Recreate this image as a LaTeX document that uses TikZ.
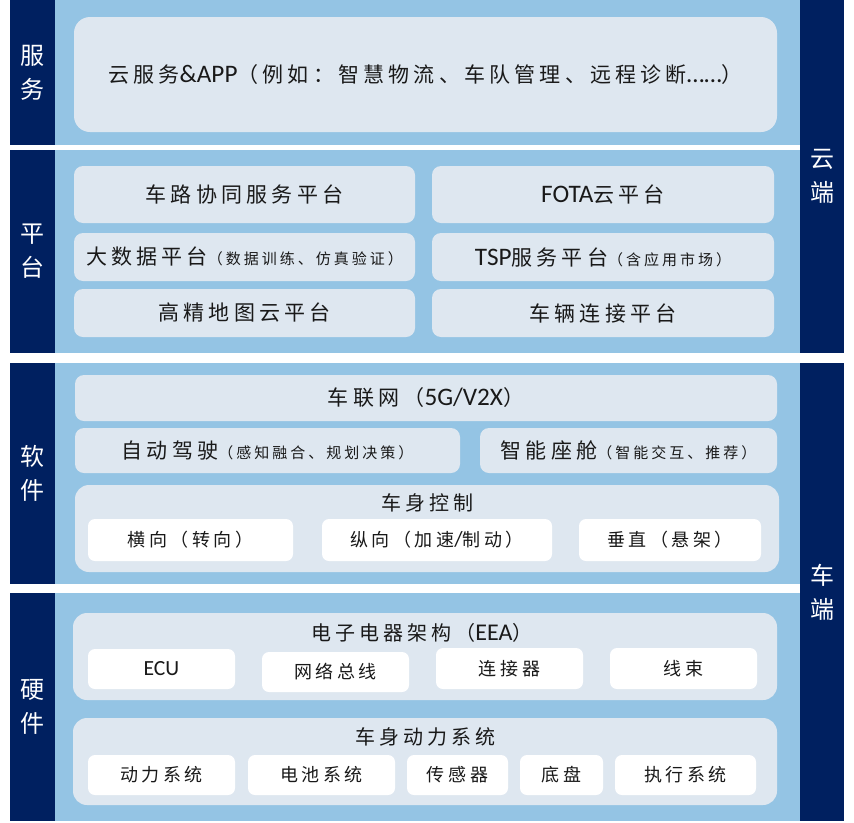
\documentclass[tikz,border=0pt]{standalone}
\usepackage{fontspec}
\usepackage{tikz}
\newfontfamily\zhfont[LetterSpace=20]{Noto Sans CJK SC}
\newfontfamily\latfont[Scale=1.2]{Carlito}
\newcommand{\lat}[1]{{\latfont #1}}
\newcommand{\aside}[1]{{\fontsize{15}{18}\selectfont #1}}
\definecolor{navy}{RGB}{0,32,96}
\definecolor{paleblue}{RGB}{148,196,228}
\definecolor{greybox}{RGB}{222,231,240}

\begin{document}
\begin{tikzpicture}[x=1pt, y=-1pt,
		band/.style={fill=navy, text=white, inner sep=0pt, outer sep=0pt, align=center, font=\zhfont\fontsize{24}{34}\selectfont},
		panel/.style={fill=paleblue, inner sep=0pt, outer sep=0pt},
		tier/.style={fill=greybox, rounded corners=9pt, inner sep=0pt, text=black!90, font=\zhfont\fontsize{21}{25}\selectfont},
		unit/.style={fill=white, rounded corners=7pt, inner sep=0pt, text=black!90, font=\zhfont\fontsize{18}{22}\selectfont},
		heading/.style={inner sep=0pt, text=black!90, font=\zhfont\fontsize{20}{24}\selectfont},
		wh/.style 2 args={minimum width=#1pt, minimum height=#2pt},
	]
	\useasboundingbox (0,0) rectangle (854,822);
	
	%Bands
	\node[band, wh={45}{145}]	(lsvc)		at (32.5,72.5)	{服\\务};
	\node[band, wh={45}{203}]	(lplat)		at (32.5,251.5)	{平\\台};
	\node[band, wh={45}{221}]	(lsoft)		at (32.5,473.5)	{软\\件};
	\node[band, wh={45}{228}]	(lhard)		at (32.5,707)	{硬\\件};
	\node[band, wh={44}{353}]	(rcloud)	at (822,176.5)	{云\\端};
	\node[band, wh={44}{458}]	(rcar)		at (822,592)	{车\\端};
	
	%Panels
	\node[panel, wh={745}{145}]	(psvc)		at (427.5,72.5)		{};
	\node[panel, wh={745}{203}]	(pplat)		at (427.5,251.5)	{};
	\node[panel, wh={745}{221}]	(psoft)		at (427.5,473.5)	{};
	\node[panel, wh={745}{228}]	(phard)		at (427.5,707)		{};
	
	%Service
	\node[tier, rounded corners=16pt, wh={703}{115}]	(cloudapp)	at (425.5,74.5)	{云服务\lat{\&APP}（例如：智慧物流、车队管理、远程诊断\lat{……}）};
	
	%Platform
	\node[tier, wh={341}{57}]	(v2xplat)	at (244.5,194.5)	{车路协同服务平台};
	\node[tier, wh={342}{57}]	(fota)		at (603,194.5)		{\lat{FOTA}云平台};
	\node[tier, wh={341}{48}]	(bigdata)	at (244.5,257)		{大数据平台\aside{（数据训练、仿真验证）}};
	\node[tier, wh={342}{48}]	(tsp)		at (603,257)		{\lat{TSP}服务平台\aside{（含应用市场）}};
	\node[tier, wh={341}{48}]	(hdmap)		at (244.5,313)		{高精地图云平台};
	\node[tier, wh={342}{48}]	(vlink)		at (603,313)		{车辆连接平台};
	
	%Software
	\node[tier, wh={702}{46}]	(iov)		at (426,398)		{车联网（\lat{5G/V2X}）};
	\node[tier, wh={385}{45}]	(ads)		at (267.5,450.5)	{自动驾驶\aside{（感知融合、规划决策）}};
	\node[tier, wh={297}{45}]	(cabin)		at (628.5,450.5)	{智能座舱\aside{（智能交互、推荐）}};
	\node[tier, rounded corners=14pt, wh={704}{87}]	(body)	at (427,528.5)	{};
	\node[heading]				(bodyt)		at (427,503)		{车身控制};
	\node[unit, wh={205}{42}]	(steer)		at (190.5,540)		{横向（转向）};
	\node[unit, wh={230}{42}]	(accel)		at (437,540)		{纵向（加速\lat{/}制动）};
	\node[unit, wh={182}{42}]	(susp)		at (670,540)		{垂直（悬架）};
	
	%Hardware
	\node[tier, rounded corners=14pt, wh={704}{87}]	(eea)	at (425,656.5)	{};
	\node[heading]				(eeat)		at (422,633)		{电子电器架构（\lat{EEA}）};
	\node[unit, wh={147}{40}]	(ecu)		at (161.5,669)		{\lat{ECU}};
	\node[unit, wh={147}{40}]	(bus)		at (335.5,672)		{网络总线};
	\node[unit, wh={147}{41}]	(conn)		at (509.5,668.5)	{连接器};
	\node[unit, wh={147}{41}]	(harness)	at (683.5,668.5)	{线束};
	\node[tier, rounded corners=14pt, wh={704}{87}]	(drive)	at (425,761.5)	{};
	\node[heading]				(drivet)	at (425,737)		{车身动力系统};
	\node[unit, wh={147}{40}]	(power)		at (161.5,775)		{动力系统};
	\node[unit, wh={147}{40}]	(battery)	at (321.5,775)		{电池系统};
	\node[unit, wh={101}{40}]	(sensor)	at (457.5,775)		{传感器};
	\node[unit, wh={83}{40}]	(chassis)	at (561.5,775)		{底盘};
	\node[unit, wh={141}{40}]	(actuator)	at (685.5,775)		{执行系统};
	
\end{tikzpicture}
\end{document}
